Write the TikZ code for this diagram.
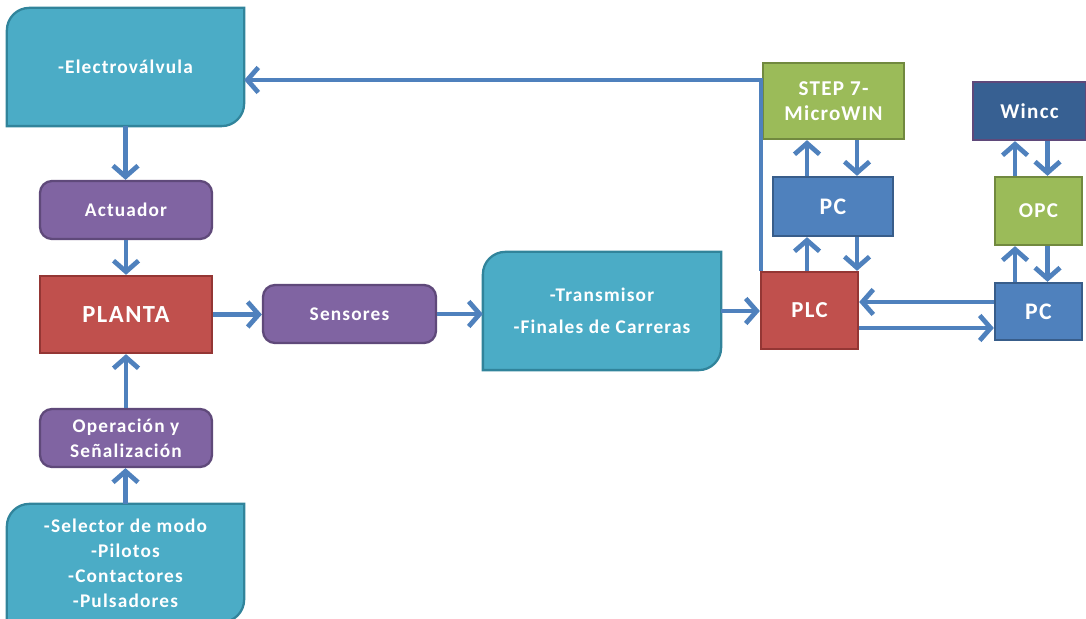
\documentclass[tikz,border=0pt]{standalone}
\usepackage{fontspec}
\setmainfont{Carlito}[LetterSpace=6]
\usetikzlibrary{arrows.meta,backgrounds}

\definecolor{tealfill}{HTML}{4BACC6}
\definecolor{tealline}{HTML}{31849B}
\definecolor{purpfill}{HTML}{8064A2}
\definecolor{purpline}{HTML}{5F497A}
\definecolor{redfill}{HTML}{C0504D}
\definecolor{redline}{HTML}{943634}
\definecolor{grnfill}{HTML}{9BBB59}
\definecolor{grnline}{HTML}{71893F}
\definecolor{bluefill}{HTML}{4F81BD}
\definecolor{blueline}{HTML}{385D8A}
\definecolor{navyfill}{HTML}{376092}
\definecolor{arrcol}{HTML}{4F81BD}

\begin{document}
\begin{tikzpicture}
    \tikzstyle{box} = [rectangle, inner sep=2pt, align=center, text=white, line width=1.3pt,
                       font=\fontsize{11}{14.2}\selectfont\bfseries]
    \tikzstyle{tealbox} = [box, draw=none]
    \tikzstyle{purpbox} = [box, rounded corners=0.24cm, draw=purpline, fill=purpfill]
    \tikzstyle{redbox} = [box, draw=redline, fill=redfill]
    \tikzstyle{grnbox} = [box, draw=grnline, fill=grnfill]
    \tikzstyle{bluebox} = [box, draw=blueline, fill=bluefill]
    \tikzstyle{line} = [draw, arrcol, line width=2.7pt, -{Straight Barb[length=2.2mm,width=5mm]}]

    \useasboundingbox (0,0) rectangle (21.72,12.36);

    % left column
    \node [tealbox, minimum width=4.7cm, minimum height=2.32cm] (elec) at (2.51,11.02) {-Electroválvula};
    \node [purpbox, minimum width=3.44cm, minimum height=1.16cm] (act) at (2.52,8.16) {Actuador};
    \node [redbox, minimum width=3.44cm, minimum height=1.54cm, font=\fontsize{14}{16}\selectfont\bfseries] (planta) at (2.52,6.07) {PLANTA};
    \node [purpbox, minimum width=3.44cm, minimum height=1.16cm] (oper) at (2.52,3.6) {Operación y\\Señalización};
    \node [tealbox, minimum width=4.7cm, minimum height=2.32cm] (sel) at (2.51,1.1)
        {-Selector de modo\\-Pilotos\\-Contactores\\-Pulsadores};

    % middle row
    \node [purpbox, minimum width=3.46cm, minimum height=1.16cm] (sens) at (6.99,6.08) {Sensores};
    \node [tealbox, minimum width=4.72cm, minimum height=2.32cm, font=\fontsize{11}{18}\selectfont\bfseries] (trans) at (12.04,6.14)
        {-Transmisor\\-Finales de Carreras};

    % control side
    \node [redbox, minimum width=1.94cm, minimum height=1.54cm, font=\fontsize{13}{15}\selectfont\bfseries] (plc) at (16.19,6.15) {PLC};
    \node [bluebox, minimum width=2.4cm, minimum height=1.18cm, font=\fontsize{13.5}{15}\selectfont\bfseries] (pcA) at (16.66,8.23) {PC};
    \node [grnbox, minimum width=2.82cm, minimum height=1.52cm, font=\fontsize{12}{14.2}\selectfont\bfseries] (step) at (16.67,10.34) {STEP 7-\\MicroWIN};
    \node [bluebox, minimum width=1.74cm, minimum height=1.14cm, font=\fontsize{13.5}{15}\selectfont\bfseries] (pcB) at (20.77,6.13) {PC};
    \node [grnbox, minimum width=1.74cm, minimum height=1.36cm, font=\fontsize{12}{14}\selectfont\bfseries] (opc) at (20.77,8.14) {OPC};
    \node [box, draw=purpline, fill=navyfill, minimum width=2.26cm, minimum height=1.16cm, font=\fontsize{12}{14}\selectfont\bfseries] (wincc) at (20.59,10.14) {Wincc};

    % diagonal rounded boxes
    \begin{scope}[on background layer]
        \foreach \n in {elec,sel,trans}
            \draw [tealline, fill=tealfill, line width=1.3pt] (\n.south west) -- ([yshift=-0.45cm]\n.north west)
                arc [start angle=180, end angle=90, radius=0.45cm] -- (\n.north east)
                -- ([yshift=0.45cm]\n.south east) arc [start angle=0, end angle=-90, radius=0.45cm] -- cycle;
    \end{scope}

    \draw [line] (elec.south) -- (elec.south |- act.north);
    \draw [line] (act.south) -- (act.south |- planta.north);
    \draw [line] (oper.north) -- (oper.north |- planta.south);
    \draw [line] (sel.north) -- (sel.north |- oper.south);
    \draw [line] (planta.east) -- (planta.east -| sens.west);
    \draw [line] (sens.east) -- (sens.east -| trans.west);
    \draw [line] (trans.east) -- (trans.east -| plc.west);
    \draw [line] ([xshift=0.02cm]plc.north west) |- ([yshift=-0.26cm]elec.east);

    \draw [line] ([xshift=-0.52cm]pcA.south |- plc.north) -- ([xshift=-0.52cm]pcA.south);
    \draw [line] ([xshift=0.48cm]pcA.south) -- ([xshift=0.48cm]pcA.south |- plc.north);
    \draw [line] ([xshift=-0.52cm]pcA.north) -- ([xshift=-0.52cm]pcA.north |- step.south);
    \draw [line] ([xshift=0.48cm]pcA.north |- step.south) -- ([xshift=0.48cm]pcA.north);

    \draw [line] ([xshift=-0.47cm]opc.south |- pcB.north) -- ([xshift=-0.47cm]opc.south);
    \draw [line] ([xshift=0.18cm]opc.south) -- ([xshift=0.18cm]opc.south |- pcB.north);
    \draw [line] ([xshift=-0.47cm]opc.north) -- ([xshift=-0.47cm]opc.north |- wincc.south);
    \draw [line] ([xshift=0.18cm]opc.north |- wincc.south) -- ([xshift=0.18cm]opc.north);

    \draw [line] ([yshift=0.17cm]pcB.west |- plc.east) -- ([yshift=0.17cm]plc.east);
    \draw [line] ([yshift=-0.35cm]plc.east) -- ([yshift=-0.35cm]pcB.west |- plc.east);
\end{tikzpicture}
\end{document}
